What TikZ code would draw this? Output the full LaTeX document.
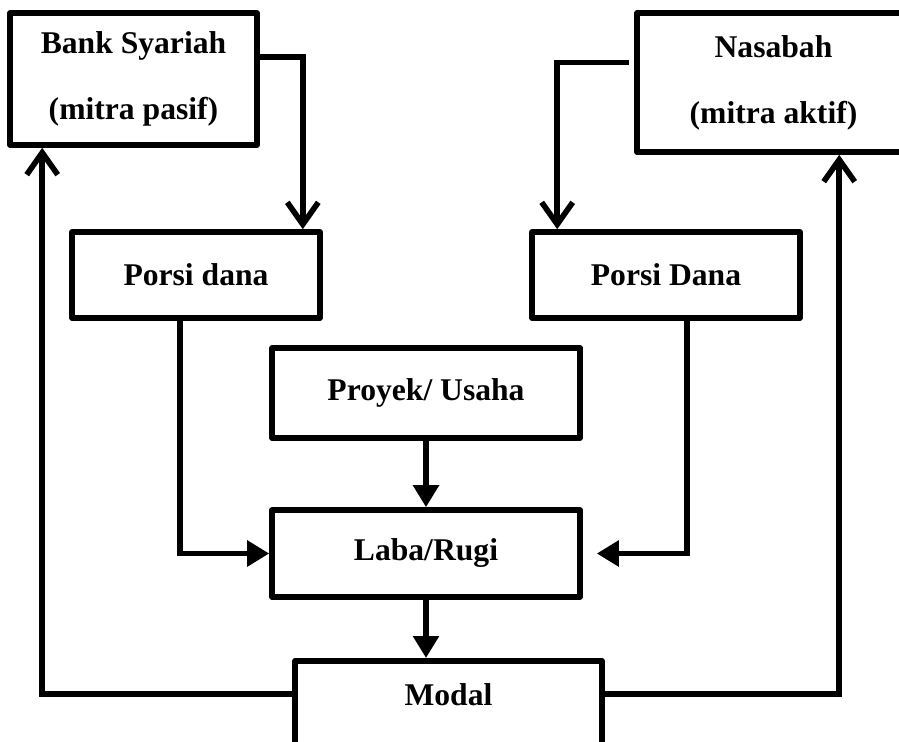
\documentclass[tikz,border=0pt]{standalone}
\usepackage{fontspec}
\setmainfont{Liberation Serif}
\usetikzlibrary{arrows.meta,calc}

\begin{document}
\begin{tikzpicture}[x=0.02cm,y=-0.02cm,
  box/.style={draw,line width=3.2pt,line join=round,inner sep=0pt,align=center,
    font=\fontsize{18}{21.6}\selectfont\bfseries},
  openarrow/.style={line width=3.2pt,-{Straight Barb[length=4.4mm,width=6.2mm]}},
  fillarrow/.style={line width=3.2pt,-{Triangle[length=4.4mm,width=5mm]}}]
\useasboundingbox (0,0) rectangle (899,741);
\clip (0,0) rectangle (899,741);

% partners
\node[box,minimum width=4.94cm,minimum height=2.64cm] (bank) at (133.5,79) {Bank Syariah\\[16pt](mitra pasif)};
\node[box,minimum width=5.46cm,minimum height=2.78cm] (nasabah) at (773.5,82.5) {Nasabah\\[16pt](mitra aktif)};

% funds
\node[box,minimum width=4.96cm,minimum height=1.72cm] (porsi1) at (196,275) {Porsi dana};
\node[box,minimum width=5.36cm,minimum height=1.72cm] (porsi2) at (666,275) {Porsi Dana};

\node[box,minimum width=6.16cm,minimum height=1.8cm] (proyek) at (426,393) {Proyek/ Usaha};
\node[box,minimum width=6.16cm,minimum height=1.74cm] (laba) at (426,553.5) {Laba/Rugi};
\node[box,anchor=north,minimum width=6.14cm,text height=0.9cm,text depth=2cm] (modal) at (448.5,658) {Modal};

% connectors
\draw[openarrow] ($(bank.east)+(0,-22)$) -| ($(porsi1.north east)+(-20,0)$);
\draw[openarrow] ($(nasabah.west)+(-5,-20)$) -| ($(porsi2.north west)+(28,0)$);
\draw[fillarrow] ($(porsi1.south west)+(111,0)$) |- (laba.west);
\draw[fillarrow,shorten >=0.28cm] ($(porsi2.south west)+(158,0)$) |- (laba.east);
\draw[fillarrow] (proyek.south) -- (laba.north);
\draw[fillarrow] (laba.south) -- (laba.south |- modal.north);
\draw[openarrow] ($(modal.north west)+(0,36)$) -| ($(bank.south west)+(35,0)$);
\draw[openarrow] ($(modal.north east)+(0,36)$) -| ($(nasabah.south west)+(205,0)$);
\end{tikzpicture}
\end{document}
